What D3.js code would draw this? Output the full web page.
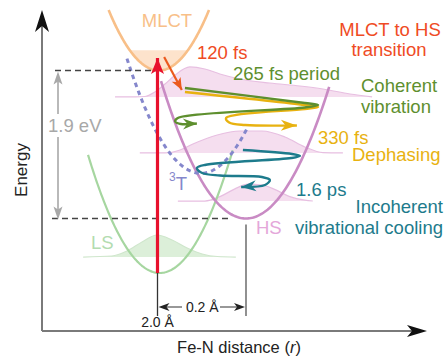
<!DOCTYPE html>
<html>
<head>
<meta charset="utf-8">
<script src="https://cdn.jsdelivr.net/npm/d3@7"></script>
<style>
  html, body { margin: 0; padding: 0; background: #fff; }
  svg { display: block; font-family: "Liberation Sans", Arial, Helvetica, sans-serif; }
</style>
</head>
<body>
<svg id="chart" width="446" height="356"></svg>
<script>
// ---- Potential-energy wells: E = E0 + k (r - r0)^2 over [rMin, rMax] (r in Å, E in eV)
const wellNames = ["MLCT", "LS", "HS", "3T"];
const wellR0    = [2.003, 2.005, 2.200, 2.098];
const wellE0    = [2.60, 0.00, 0.70, 1.28];
const wellK     = [60.3, 57.8, 47.8, 52.8];
const wellRMin  = [1.8896, 1.843, 2.008, 1.931];
const wellRMax  = [2.1164, 2.170, 2.388, 2.205];
const mlctBandTop = 2.86;          // top of the shaded MLCT population band

// ---- Reference distances and the energy gap
const rLS = 2.0, rHS = 2.2;
const gapEnergy = 1.9;             // MLCT minimum above HS minimum
const gapLabel = "1.9 eV";
const distLabels = ["2.0 Å", "0.2 Å"];

// ---- Vibrational wave packets: baseline energy and outline [r, E]
const packetLSBase = 0.205;
const packetLS = [[1.832,0.205],[1.897,0.218],[1.931,0.282],[1.965,0.398],[1.999,0.488],[2.033,0.424],[2.067,0.321],[2.101,0.244],[2.135,0.212],[2.177,0.205]];
const packetHS1Base = 2.26;
const packetHS1 = [[1.904,2.26],[1.950,2.26],[1.972,2.266],[1.994,2.324],[2.017,2.426],[2.040,2.542],[2.073,2.645],[2.107,2.619],[2.141,2.555],[2.186,2.491],[2.254,2.439],[2.322,2.401],[2.374,2.362],[2.435,2.298],[2.485,2.26]];
const packetHS2Base = 1.541;
const packetHS2 = [[1.960,1.541],[2.017,1.541],[2.051,1.579],[2.080,1.656],[2.135,1.772],[2.186,1.823],[2.236,1.823],[2.288,1.746],[2.333,1.618],[2.374,1.545],[2.419,1.541]];
const packetHS3Base = 0.924;
const packetHS3 = [[2.046,0.924],[2.107,0.924],[2.141,0.98],[2.175,1.08],[2.205,1.14],[2.236,1.13],[2.266,1.07],[2.299,0.98],[2.333,0.935],[2.351,0.924]];

// ---- Dynamics paths [r, E]
const excitation = [[2.0, 0.0], [2.0, 2.76]];
const transfer   = [[2.015, 2.773], [2.055, 2.349]];
const coherent   = [[2.062,2.375],[2.333,2.183],[2.363,2.157],[2.333,2.125],[2.046,1.990],[2.040,1.945],[2.053,1.913],[2.089,1.919]];
const dephasing  = [[2.062,2.324],[2.333,2.157],[2.363,2.131],[2.333,2.106],[2.155,1.990],[2.162,1.932],[2.198,1.900],[2.315,1.894]];
const cooling    = [[2.193,1.579],[2.304,1.528],[2.322,1.502],[2.302,1.476],[2.107,1.387],[2.089,1.348],[2.101,1.284],[2.141,1.252],[2.236,1.233],[2.254,1.194],[2.243,1.130],[2.189,1.104]];

// ---- Colours
const C = {
  mlct: "#f8bf88", mlctFill: "#fde3cc",
  ls: "#a6d6a0", lsText: "#b3dcb0", lsFill: "#dcefd9", lsLine: "#cfe6cc",
  hs: "#c98bc4", hsText: "#e4a7da", hsFill: "#f5deef", hsLine: "#e7bfe1",
  t3: "#8587cc", red: "#e8112d", orange: "#eb5a1e", redText: "#ef4b24",
  green: "#5e8f2e", yellow: "#e8b210", teal: "#1d7b8c", gray: "#a8a8a8"
};

const svg = d3.select("#chart");
const x = d3.scaleLinear().domain([rLS, rHS]).range([157.5, 246]);
const y = d3.scaleLinear().domain([0, gapEnergy]).range([273, 125]);

const line = d3.line().x(d => x(d[0])).y(d => y(d[1]));
const smooth = d3.line().x(d => x(d[0])).y(d => y(d[1])).curve(d3.curveCatmullRom.alpha(0.5));
const packetLine = d3.line().x(d => x(d[0])).y(d => y(d[1])).curve(d3.curveMonotoneX);

function head(g, tip, from, len, half, notch, color) {
  const a = Math.atan2(tip[1] - from[1], tip[0] - from[0]);
  const ux = Math.cos(a), uy = Math.sin(a), px = -uy, py = ux;
  const b = [tip[0] - ux * len, tip[1] - uy * len];
  const p1 = [b[0] + px * half, b[1] + py * half];
  const p2 = [b[0] - px * half, b[1] - py * half];
  const n = [tip[0] - ux * (len - notch), tip[1] - uy * (len - notch)];
  g.append("path").attr("d", `M${tip}L${p1}L${n}L${p2}Z`).attr("fill", color);
}
const P = d => [x(d[0]), y(d[1])];

function wellPoints(i, lo, hi) {
  const a = lo ?? wellRMin[i], b = hi ?? wellRMax[i];
  return d3.range(0, 121).map(j => {
    const r = a + (b - a) * j / 120;
    return [r, wellE0[i] + wellK[i] * (r - wellR0[i]) ** 2];
  });
}

// ---- Wave packets
function packet(pts, base, fill, stroke) {
  const area = d3.area().x(d => x(d[0])).y0(y(base)).y1(d => y(d[1])).curve(d3.curveMonotoneX);
  svg.append("path").attr("d", area(pts)).attr("fill", fill);
  svg.append("path").attr("d", packetLine(pts)).attr("fill", "none").attr("stroke", stroke).attr("stroke-width", 1.2);
}
packet(packetLS, packetLSBase, C.lsFill, C.lsLine);
packet(packetHS1, packetHS1Base, C.hsFill, C.hsLine);
packet(packetHS2, packetHS2Base, C.hsFill, C.hsLine);
packet(packetHS3, packetHS3Base, C.hsFill, C.hsLine);

// ---- MLCT population band
{
  const half = Math.sqrt((mlctBandTop - wellE0[0]) / wellK[0]);
  const pts = wellPoints(0, wellR0[0] - half, wellR0[0] + half);
  const band = d3.area().x(d => x(d[0])).y0(y(mlctBandTop)).y1(d => y(d[1]));
  svg.append("path").attr("d", band(pts)).attr("fill", C.mlctFill);
}

// ---- Potential curves
const wellColor = [C.mlct, C.ls, C.hs, C.t3];
const wellWidth = [2.6, 2.2, 2.6, 3];
wellNames.forEach((nm, i) => {
  const p = svg.append("path").attr("d", line(wellPoints(i))).attr("fill", "none")
    .attr("stroke", wellColor[i]).attr("stroke-width", wellWidth[i]);
  if (nm === "3T") p.attr("stroke-dasharray", "4.5,4");
});

// ---- Energy reference lines
const eHS = wellE0[2], eMLCT = eHS + gapEnergy;
svg.append("line").attr("x1", 55).attr("x2", x(rLS)).attr("y1", y(eMLCT)).attr("y2", y(eMLCT))
  .attr("stroke", "#444").attr("stroke-width", 1.4).attr("stroke-dasharray", "6,4");
svg.append("line").attr("x1", 52).attr("x2", 232).attr("y1", y(eHS)).attr("y2", y(eHS))
  .attr("stroke", "#444").attr("stroke-width", 1.4).attr("stroke-dasharray", "6,4");

// 1.9 eV gap arrow
svg.append("line").attr("x1", 58).attr("x2", 58).attr("y1", y(eMLCT) + 6).attr("y2", y(eHS) - 6)
  .attr("stroke", C.gray).attr("stroke-width", 1.6);
head(svg, [58, y(eMLCT) + 1], [58, y(eMLCT) + 20], 13, 4.5, 3, C.gray);
head(svg, [58, y(eHS) + 1], [58, y(eHS) - 20], 13, 4.5, 3, C.gray);
svg.append("rect").attr("x", 47).attr("y", 114).attr("width", 55).attr("height", 23).attr("fill", "#fff");
svg.append("text").attr("x", 48).attr("y", 132).attr("font-size", 18.5).attr("fill", C.gray).text(gapLabel);

// ---- Distance markers
svg.append("line").attr("x1", x(rLS)).attr("x2", x(rLS)).attr("y1", y(0)).attr("y2", 316)
  .attr("stroke", "#333").attr("stroke-width", 1.3);
svg.append("line").attr("x1", x(rHS)).attr("x2", x(rHS)).attr("y1", y(eHS) + 6).attr("y2", 316)
  .attr("stroke", "#555").attr("stroke-width", 1.3);
svg.append("line").attr("x1", x(rLS) + 4).attr("x2", x(rHS) - 4).attr("y1", 307).attr("y2", 307)
  .attr("stroke", "#333").attr("stroke-width", 1.2);
head(svg, [x(rLS) + 1, 307], [x(rHS), 307], 11, 4, 3, "#222");
head(svg, [x(rHS) - 1, 307], [x(rLS), 307], 11, 4, 3, "#222");
svg.append("rect").attr("x", 182).attr("y", 299).attr("width", 38).attr("height", 16).attr("fill", "#fff");
svg.append("text").attr("x", (x(rLS) + x(rHS)) / 2 + 0.5).attr("y", 312).attr("text-anchor", "middle")
  .attr("font-size", 14).attr("fill", "#222").text(distLabels[1]);
svg.append("text").attr("x", x(rLS)).attr("y", 327).attr("text-anchor", "middle")
  .attr("font-size", 14).attr("fill", "#222").text(distLabels[0]);

// ---- Excitation and transfer arrows
svg.append("path").attr("d", line(excitation)).attr("stroke", C.red).attr("stroke-width", 3.2).attr("fill", "none");
head(svg, P(excitation[1]), P(excitation[0]), 16, 6.5, 4, C.red);
svg.append("path").attr("d", line(transfer)).attr("stroke", C.orange).attr("stroke-width", 2.2).attr("fill", "none");
head(svg, P(transfer[1]), P(transfer[0]), 12, 5, 3, C.orange);

// ---- Coherent vibration, dephasing and cooling paths
function wiggle(pts, color, len) {
  svg.append("path").attr("d", smooth(pts)).attr("fill", "none").attr("stroke", color)
    .attr("stroke-width", 2.4).attr("stroke-linejoin", "round");
  const n = pts.length;
  head(svg, P(pts[n - 1]), P(pts[n - 2]), len, 5.5, 4.5, color);
}
wiggle(dephasing, C.yellow, 16);
wiggle(coherent, C.green, 14);
wiggle(cooling, C.teal, 15);

// ---- Axes
svg.append("line").attr("x1", 42).attr("x2", 42).attr("y1", 331).attr("y2", 22)
  .attr("stroke", "#7a7a7a").attr("stroke-width", 2);
svg.append("line").attr("x1", 42).attr("x2", 414).attr("y1", 331).attr("y2", 331)
  .attr("stroke", "#7a7a7a").attr("stroke-width", 2);
head(svg, [42, 10], [42, 60], 22, 7, 6, "#111");
head(svg, [427, 331], [380, 331], 20, 6, 5, "#111");

svg.append("text").attr("transform", "translate(27,170) rotate(-90)").attr("text-anchor", "middle")
  .attr("font-size", 17).attr("fill", "#222").text("Energy");
const xl = svg.append("text").attr("x", 239).attr("y", 353).attr("text-anchor", "middle")
  .attr("font-size", 16.5).attr("fill", "#222");
xl.append("tspan").text("Fe-N distance (");
xl.append("tspan").attr("font-style", "italic").text("r");
xl.append("tspan").text(")");

// ---- State labels
const fs = 18.5;
svg.append("text").attr("x", 167).attr("y", 27).attr("text-anchor", "middle").attr("font-size", fs).attr("fill", C.mlct).text("MLCT");
svg.append("text").attr("x", 91).attr("y", 249).attr("font-size", fs).attr("fill", C.lsText).text("LS");
svg.append("text").attr("x", 256).attr("y", 234).attr("font-size", fs).attr("fill", C.hsText).text("HS");
const t3 = svg.append("text").attr("x", 169).attr("y", 190).attr("font-size", fs).attr("fill", C.t3);
t3.append("tspan").attr("font-size", 12).attr("dy", -9).text("3");
t3.append("tspan").attr("dy", 9).text("T");

// ---- Process labels
function label(txt, xx, yy, color, anchor) {
  svg.append("text").attr("x", xx).attr("y", yy).attr("font-size", fs).attr("fill", color)
    .attr("text-anchor", anchor || "start").text(txt);
}
label("120 fs", 197, 59, C.redText);
label("MLCT to HS", 390, 36, C.redText, "middle");
label("transition", 389, 56, C.redText, "middle");
label("265 fs period", 233, 80, C.green);
label("Coherent", 361, 92, C.green);
label("vibration", 361, 113, C.green);
label("330 fs", 318, 144, C.yellow);
label("Dephasing", 352, 161, C.yellow);
label("1.6 ps", 296, 196, C.teal);
label("Incoherent", 443, 213, C.teal, "end");
label("vibrational cooling", 443, 234, C.teal, "end");
</script>
</body>
</html>
